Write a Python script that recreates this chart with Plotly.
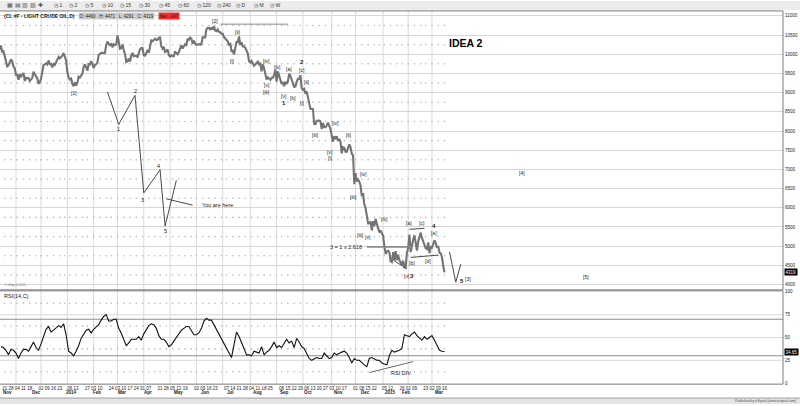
import pandas as pd
import plotly.graph_objects as go

# ---------------- data (daily closes x100) ----------------
close_2013_10 = [10240, 10121, 10229, 10067, 10081, 9922, 9830, 9686, 9711, 9785, 9868, 9820, 9677, 9638]
close_2013_11 = [9461, 9462, 9337, 9480, 9420, 9460, 9514, 9304, 9388, 9376, 9384, 9303, 9332, 9386, 9544, 9484, 9409, 9369, 9230, 9272]
close_2013_12 = [9362, 9580, 9720, 9738, 9765, 9734, 9839, 9744, 9750, 9660, 9748, 9722, 9780, 9840, 9932, 9891, 9922, 9962, 10032, 9929, 9842]
close_2014_01 = [9544, 9396, 9343, 9367, 9230, 9166, 9272, 9180, 9259, 9417, 9396, 9437, 9499, 9670, 9732, 9664, 9572, 9741, 9736, 9823, 9749]
close_2014_02 = [9643, 9719, 9738, 9784, 9988, 10006, 10037, 10037, 10035, 10030, 10243, 10331, 10276, 10220, 10282, 10183, 10259, 10240, 10259]
close_2014_03 = [10492, 10333, 10145, 10158, 10258, 10112, 10003, 9799, 9820, 9889, 9808, 9970, 10037, 9948, 9946, 9960, 9919, 10026, 10128, 10167, 10158]
close_2014_04 = [9974, 9962, 10029, 10114, 10041, 10260, 10360, 10340, 10374, 10405, 10375, 10376, 10430, 10438, 10206, 10144, 10194, 10060, 10084, 10128, 9974]
close_2014_05 = [9942, 9976, 9948, 9950, 10077, 10026, 9999, 10059, 10170, 10237, 10150, 10202, 10261, 10239, 10407, 10375, 10435, 10411, 10272, 10358, 10271]
close_2014_06 = [10247, 10266, 10264, 10248, 10266, 10441, 10435, 10440, 10653, 10691, 10690, 10636, 10697, 10643, 10726, 10617, 10603, 10650, 10584, 10574, 10537]
close_2014_07 = [10534, 10448, 10406, 10353, 10340, 10229, 10293, 10083, 10091, 9996, 10120, 10320, 10313, 10464, 10242, 10312, 10207, 10209, 10167, 10097, 10027, 9817]
close_2014_08 = [9788, 9829, 9738, 9700, 9734, 9765, 9808, 9737, 9759, 9558, 9735, 9635, 9448, 9345, 9396, 9365, 9335, 9386, 9388, 9455, 9596]
close_2014_09 = [9288, 9554, 9445, 9329, 9229, 9275, 9167, 9283, 9227, 9292, 9488, 9442, 9307, 9241, 9152, 9156, 9280, 9360, 9354, 9457, 9116]
close_2014_10 = [9073, 9101, 8974, 9034, 8885, 8731, 8577, 8582, 8574, 8184, 8178, 8270, 8275, 8271, 8249, 8052, 8209, 8101, 8100, 8142, 8220, 8112, 8054]
close_2014_11 = [7878, 7719, 7868, 7791, 7865, 7740, 7794, 7718, 7421, 7582, 7564, 7461, 7458, 7558, 7651, 7578, 7409, 7369, 6615]
close_2014_12 = [6900, 6688, 6738, 6681, 6584, 6305, 6382, 6094, 5995, 5781, 5591, 5593, 5647, 5411, 5652, 5526, 5712, 5584, 5473, 5361, 5412, 5327]
close_2015_01 = [5269, 5004, 4793, 4865, 4879, 4836, 4607, 4589, 4848, 4625, 4869, 4639, 4778, 4631, 4559, 4515, 4623, 4445, 4453, 4824]
close_2015_02 = [4957, 5305, 4845, 5048, 5169, 5286, 5002, 4884, 5121, 5278, 5353, 5214, 5116, 5034, 4945, 4925, 5099, 4817, 4976]
close_2015_03 = [4959, 5052, 5153, 5076, 4961, 5000, 4829, 4817, 4705, 4484, 4319]

first_session = "2013-10-14"
holidays = ["2013-11-28", "2013-12-25", "2014-01-01", "2014-01-20", "2014-02-17", "2014-04-18",
            "2014-05-26", "2014-07-04", "2014-09-01", "2014-11-27", "2014-12-25", "2015-01-01",
            "2015-01-19", "2015-02-16", "2015-04-03", "2015-05-25", "2015-07-03", "2015-09-07"]

# RSI(14,C) read every second session, ending on the last bar
rsi_every_2nd = [40, 39, 36, 31, 37, 36, 33, 27, 33, 37,
                 37, 35, 40, 45, 39, 36, 43, 52, 59, 62,
                 56, 58, 61, 63, 61, 65, 53, 35, 33, 30,
                 35, 41, 49, 54, 58, 59, 55, 59, 62, 64,
                 69, 73, 75, 68, 68, 70, 70, 60, 55, 49,
                 41, 44, 48, 48, 48, 51, 47, 54, 59, 63,
                 65, 64, 60, 52, 48, 48, 45, 40, 42, 46,
                 51, 55, 58, 60, 62, 62, 57, 53, 53, 55,
                 60, 68, 71, 69, 69, 64, 59, 54, 49, 44,
                 39, 34, 28, 42, 56, 51, 45, 38, 31, 31,
                 30, 35, 34, 33, 40, 31, 34, 36, 40, 45,
                 39, 41, 39, 44, 48, 44, 46, 39, 49, 45,
                 40, 38, 33, 27, 25, 27, 28, 27, 27, 33,
                 30, 27, 28, 33, 31, 33, 34, 35, 33, 28,
                 22, 27, 25, 25, 22, 20, 18, 27, 28, 26,
                 25, 25, 22, 21, 20, 30, 36, 34, 35, 36,
                 38, 53, 52, 51, 54, 56, 52, 49, 47, 51,
                 48, 50, 52, 47, 41, 36, 35, 34.65]
rsi_last = 34.65
price_last = 4319

price_ticks = [4000, 4500, 5000, 5500, 6000, 6500, 7000, 7500, 8000, 8500, 9000, 9500, 10000, 10500, 11000]
rsi_ticks = [0, 25, 50, 75, 100]

tick_dates = ["2013-10-21", "2013-10-28", "2013-11-04", "2013-11-11", "2013-11-18",
              "2013-12-02", "2013-12-09", "2013-12-16", "2013-12-23",
              "2014-01-06", "2014-01-13", "2014-01-27", "2014-02-03", "2014-02-10",
              "2014-02-24", "2014-03-03", "2014-03-10", "2014-03-17", "2014-03-24", "2014-03-31", "2014-04-07",
              "2014-04-21", "2014-04-28", "2014-05-05", "2014-05-12", "2014-05-19",
              "2014-06-02", "2014-06-09", "2014-06-16", "2014-06-23",
              "2014-07-07", "2014-07-14", "2014-07-21", "2014-07-28", "2014-08-04", "2014-08-11", "2014-08-18", "2014-08-25",
              "2014-09-08", "2014-09-15", "2014-09-22", "2014-09-29", "2014-10-06", "2014-10-13", "2014-10-20",
              "2014-10-27", "2014-11-03", "2014-11-10", "2014-11-17",
              "2014-12-01", "2014-12-08", "2014-12-15", "2014-12-22",
              "2015-01-05", "2015-01-12", "2015-01-26", "2015-02-02", "2015-02-09",
              "2015-02-23", "2015-03-02", "2015-03-09", "2015-03-16"]

month_text = ["Nov", "Dec", "2014", "Feb", "Mar", "Apr", "May", "Jun", "Jul", "Aug", "Sep", "Oct",
              "Nov", "Dec", "2015", "Feb", "Mar"]
month_date = ["2013-10-23", "2013-11-25", "2014-01-07", "2014-02-06", "2014-03-07", "2014-04-04",
              "2014-05-12", "2014-06-11", "2014-07-10", "2014-08-11", "2014-09-10", "2014-10-07",
              "2014-11-10", "2014-12-11", "2015-01-12", "2015-01-29", "2015-03-10"]

# Elliott wave labels
wave_text = ["[1]", "[2]", "[i]", "[ii]", "[iv]", "[v]", "[iii]", "[iv]", "[v]", "1", "[a]", "[b]", "2", "[c]",
             "[i]", "[ii]", "[iii]", "[iv]", "[v]", "[i]", "[ii]", "[iii]", "[iv]", "[iii]", "[v]", "[iv]",
             "[v]", "3", "[a]", "[b]", "[c]", "[d]", "4", "[e]", "5", "[3]", "[4]", "[5]"]
wave_date = ["2014-01-09", "2014-06-23", "2014-07-14", "2014-07-18", "2014-08-20", "2014-08-20", "2014-08-20",
             "2014-09-03", "2014-09-10", "2014-09-10", "2014-09-16", "2014-09-19", "2014-09-30", "2014-09-30",
             "2014-10-01", "2014-10-06", "2014-10-15", "2014-11-06", "2014-10-31", "2014-10-31", "2014-11-21",
             "2014-11-26", "2014-12-09", "2014-12-05", "2014-12-15", "2015-01-05", "2015-01-30", "2015-02-05",
             "2015-02-03", "2015-02-05", "2015-02-18", "2015-02-25", "2015-03-04", "2015-03-04", "2015-04-06",
             "2015-04-13", "2015-06-12", "2015-08-25"]
wave_price = [8983, 10871, 9818, 10568, 9836, 9190, 9017, 9681, 8905, 8732, 9622, 8872, 9792, 9596,
              8732, 9275, 7897, 8199, 7465, 7294, 7897, 6275, 6888, 5285, 5251, 5699,
              4232, 4232, 5595, 4553, 5595, 4620, 5525, 5355, 4103, 4147, 6906, 4207]

# schematic impulse sketch ("You are here")
sketch_date = ["2014-02-19", "2014-03-04", "2014-03-21", "2014-04-01", "2014-04-21", "2014-04-25", "2014-05-08"]
sketch_price = [9017, 8173, 8931, 6389, 6992, 5525, 6715]
sketch_lbl_text = ["1", "2", "3", "4", "5"]
sketch_lbl_date = ["2014-03-04", "2014-03-21", "2014-03-31", "2014-04-17", "2014-04-25"]
sketch_lbl_price = [8044, 9050, 6198, 7095, 5396]
pointer_date = ["2014-04-28", "2014-05-28"]
pointer_price = [6234, 6069]

# drawn lines
w2_line_date = ["2014-06-27", "2014-09-15"]
w2_line_price = [10785, 10785]
fib_line_date = ["2014-12-12", "2015-02-05"]
fib_line_price = [4982, 4982]
tri_upper_date = ["2015-02-03", "2015-02-20"]
tri_upper_price = [5440, 5466]
tri_lower_date = ["2015-02-04", "2015-03-09"]
tri_lower_price = [4708, 4768]
slope_date = ["2015-01-15", "2015-01-30"]
slope_price = [4620, 4406]
vee_date = ["2015-03-20", "2015-03-27", "2015-04-02"]
vee_price = [4853, 4062, 4535]
rsi_div_date = ["2014-12-16", "2015-02-06"]
rsi_div_value = [11.6, 23.6]

# ---------------- calendar / index ----------------
cal = pd.bdate_range(first_session, "2015-12-31")
cal = cal[~cal.isin(pd.to_datetime(holidays))]
pos = {d.strftime("%Y-%m-%d"): i for i, d in enumerate(cal)}


def X(d):
    return pos[d]


closes = (close_2013_10 + close_2013_11 + close_2013_12 + close_2014_01 + close_2014_02 + close_2014_03 +
          close_2014_04 + close_2014_05 + close_2014_06 + close_2014_07 + close_2014_08 + close_2014_09 +
          close_2014_10 + close_2014_11 + close_2014_12 + close_2015_01 + close_2015_02 + close_2015_03)
n = len(closes)
xs = list(range(n))
last_i = n - 1
rsi_x = list(range(last_i - 2 * (len(rsi_every_2nd) - 1), last_i + 1, 2))

# ---------------- geometry ----------------
W, H = 800, 406
PLOT_W = 783
PX_PER_BAR = 1.253
anchor_i = X("2013-10-21")
anchor_px = 4.7
x_range = [anchor_i - anchor_px / PX_PER_BAR, anchor_i + (PLOT_W - anchor_px) / PX_PER_BAR]


def py(px):  # pixel row -> paper y
    return 1 - px / H


def pxx(px):  # pixel column -> paper x
    return px / PLOT_W


main_dom = [py(291), py(10)]
rsi_dom = [py(386), py(292)]
price_range = [3862.6, 11129.3]
rsi_range = [-1.09, 101.1]

FONT = "Arial, Liberation Sans, sans-serif"
TXT = "#1a1a1a"

fig = go.Figure()

# dot grid (weekly columns, half-level rows), only where bars exist
week_x = [i for i in range(n) if i == 0 or cal[i].weekday() < cal[i - 1].weekday()]
dots_main_y = [p + 250 for p in price_ticks[:-1]]
fig.add_trace(go.Scatter(x=[wx for wx in week_x for _ in dots_main_y], y=[yy for _ in week_x for yy in dots_main_y],
                         mode="markers", marker=dict(size=1.6, color="#b8b8b8"), hoverinfo="skip",
                         xaxis="x", yaxis="y"))
dots_rsi_y = [12.5, 37.5, 62.5, 87.5]
fig.add_trace(go.Scatter(x=[wx for wx in week_x for _ in dots_rsi_y], y=[yy for _ in week_x for yy in dots_rsi_y],
                         mode="markers", marker=dict(size=1.6, color="#b8b8b8"), hoverinfo="skip",
                         xaxis="x2", yaxis="y2"))

# price
fig.add_trace(go.Scatter(x=xs, y=closes, mode="lines", line=dict(color="#747474", width=2.1),
                         xaxis="x", yaxis="y"))
# RSI
fig.add_trace(go.Scatter(x=rsi_x, y=rsi_every_2nd, mode="lines", line=dict(color="#111111", width=1.1),
                         xaxis="x2", yaxis="y2"))


def add_line(dates, vals, axis="main", color="#4a4a4a", width=1.0):
    fig.add_trace(go.Scatter(x=[X(d) for d in dates], y=vals, mode="lines",
                             line=dict(color=color, width=width), hoverinfo="skip",
                             xaxis="x" if axis == "main" else "x2", yaxis="y" if axis == "main" else "y2"))


add_line(sketch_date, sketch_price)
add_line(pointer_date, pointer_price)
add_line(w2_line_date, w2_line_price, color="#8a8a8a")
add_line(fib_line_date, fib_line_price, color="#8a8a8a", width=1.6)
add_line(tri_upper_date, tri_upper_price)
add_line(tri_lower_date, tri_lower_price)
add_line(slope_date, slope_price)
add_line(vee_date, vee_price)
add_line(rsi_div_date, rsi_div_value, axis="rsi", color="#6a6a6a")

shapes = []
# toolbar and bottom strip
shapes.append(dict(type="rect", xref="paper", yref="paper", x0=0, x1=W / PLOT_W, y0=py(9), y1=1,
                   fillcolor="#ececec", line=dict(width=0), layer="below"))
shapes.append(dict(type="rect", xref="paper", yref="paper", x0=0, x1=W / PLOT_W, y0=0, y1=py(400),
                   fillcolor="#e4e4e4", line=dict(width=0), layer="below"))
shapes.append(dict(type="line", xref="paper", yref="paper", x0=0, x1=W / PLOT_W, y0=py(400), y1=py(400),
                   line=dict(color="#a0a0a0", width=1)))
# month lines
month_starts = [i for i in range(1, n) if cal[i].month != cal[i - 1].month]
for m in month_starts:
    for dom in (main_dom, rsi_dom):
        shapes.append(dict(type="line", xref="x", yref="paper", x0=m, x1=m, y0=dom[0], y1=dom[1],
                           line=dict(color="#dadada", width=1), layer="below"))
# RSI levels
for lv in (25, 50, 75):
    shapes.append(dict(type="line", xref="paper", yref="y2", x0=0, x1=1, y0=lv, y1=lv,
                       line=dict(color="#dadada", width=1), layer="below"))
for lv in (30, 70):
    shapes.append(dict(type="line", xref="paper", yref="y2", x0=0, x1=1, y0=lv, y1=lv,
                       line=dict(color="#8c8c8c", width=1), layer="below"))
# panel frames
for dom in (main_dom, rsi_dom):
    shapes.append(dict(type="rect", xref="paper", yref="paper", x0=-0.002, x1=1, y0=dom[0], y1=dom[1],
                       line=dict(color="#7a7a7a", width=1), fillcolor="rgba(0,0,0,0)"))

ann = []


def A(text, x, y, xref="x", yref="y", size=5, color=TXT, bold=False, xanchor="center", yanchor="middle",
      bg=None):
    d = dict(text=f"<b>{text}</b>" if bold else text, x=x, y=y, xref=xref, yref=yref, showarrow=False,
             font=dict(family=FONT, size=size, color=color), xanchor=xanchor, yanchor=yanchor)
    if bg:
        d.update(bgcolor=bg, borderpad=0.5)
    ann.append(d)


for t, d, p in zip(wave_text, wave_date, wave_price):
    A(t, X(d), p, size=5 if t.startswith("[") else 6, bold=not t.startswith("["))
for t, d, p in zip(sketch_lbl_text, sketch_lbl_date, sketch_lbl_price):
    A(t, X(d), p, size=5.5)
A("You are here", X("2014-06-05"), 6086, size=5.5, xanchor="left")
A("3 = 1 x 2.618", X("2014-11-18"), 4967, size=5.5)
A("IDEA 2", X("2015-04-09"), 10294, size=10.5, bold=True, color="#000000")
A("RSI DIV", X("2015-01-23"), 10.9, xref="x2", yref="y2", size=5.5)

# header texts
A("(CL #F - LIGHT CRUDE OIL,D)", pxx(2), py(15), xref="paper", yref="paper", size=5, bold=True, xanchor="left")
A("O: 4460   H: 4471   L: 4291   C: 4319", pxx(116), py(15), xref="paper", yref="paper", size=4.5,
  bg="#cfcfcf")
A("Net: -147", pxx(169), py(15), xref="paper", yref="paper", size=4.5, bg="#ff2a2a")
A("RSI(14,C)", pxx(2), py(297.5), xref="paper", yref="paper", size=5.5, xanchor="left")
A("© eSignal 2015", pxx(2), py(286.5), xref="paper", yref="paper", size=3.2, color="#777777", xanchor="left")
A("Published by eSignal (www.esignal.com)", pxx(798), py(403.2), xref="paper", yref="paper", size=3.4,
  color="#555555", xanchor="right")

# toolbar
A("▦ ▤ ▥ ▧ ✚", pxx(5), py(4.5), xref="paper", yref="paper", size=6, color="#555555", xanchor="left")
tool_items = ["1", "2", "5", "10", "15", "30", "45", "60", "120", "240", "D", "M", "W"]
tool_px = [52, 67, 83, 100, 118, 137, 157, 176, 195, 215, 234, 252, 268]
for t, p in zip(tool_items, tool_px):
    A("◷ " + t, pxx(p), py(4.5), xref="paper", yref="paper", size=5, color="#333333", xanchor="left")

# month names
for t, d in zip(month_text, month_date):
    A(t, X(d), py(394.8), xref="x2", yref="paper", size=4.5, bold=True)

# last value boxes
A(str(price_last), pxx(784), price_last, xref="paper", yref="y", size=4.5, color="#ffffff", bg="#000000",
  xanchor="left")
A(f"{rsi_last:.2f}", pxx(784), rsi_last, xref="paper", yref="y2", size=4.5, color="#ffffff", bg="#000000",
  xanchor="left")

fig.update_layout(
    width=W, height=H, margin=dict(l=0, r=W - PLOT_W, t=0, b=0),
    paper_bgcolor="#ffffff", plot_bgcolor="#ffffff", showlegend=False,
    font=dict(family=FONT, size=5, color=TXT),
    shapes=shapes, annotations=ann,
    xaxis=dict(domain=[0, 1], range=x_range, anchor="y", showticklabels=False, showgrid=False,
               zeroline=False, showline=False),
    xaxis2=dict(domain=[0, 1], range=x_range, anchor="y2", matches="x", showgrid=False, zeroline=False,
                showline=False, tickmode="array", tickvals=[X(d) for d in tick_dates],
                ticktext=[d[8:10] for d in tick_dates], ticks="", ticklen=0, tickangle=0,
                tickfont=dict(family=FONT, size=4.5, color=TXT), ticklabelstandoff=0),
    yaxis=dict(domain=main_dom, range=price_range, side="right", tickmode="array", tickvals=price_ticks,
               ticktext=[str(v) for v in price_ticks], showgrid=True, gridcolor="#d6d6d6", gridwidth=1,
               zeroline=False, ticks="", ticklen=0, tickfont=dict(family=FONT, size=4.5, color=TXT),
               ticklabelstandoff=1),
    yaxis2=dict(domain=rsi_dom, range=rsi_range, side="right", tickmode="array", tickvals=rsi_ticks,
                ticktext=[str(v) for v in rsi_ticks], showgrid=False, zeroline=False, ticks="", ticklen=0,
                tickfont=dict(family=FONT, size=4.5, color=TXT), ticklabelstandoff=1),
)

fig.write_html("out.html", config={"displayModeBar": False, "staticPlot": True},
               post_script="document.body.style.margin='0';document.body.style.overflow='hidden';")
